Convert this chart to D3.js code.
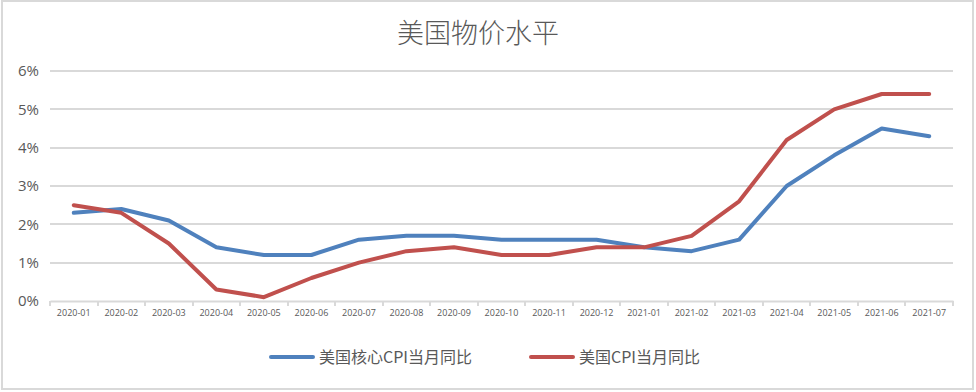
<!DOCTYPE html>
<html>
<head>
<meta charset="utf-8">
<script src="https://cdn.jsdelivr.net/npm/d3@7"></script>
<style>
  body { margin: 0; background: #fff; }
  svg { display: block; font-family: "Noto Sans CJK SC", "Noto Sans", sans-serif; }
</style>
</head>
<body>
<div id="chart"></div>
<script>
// months on the x axis
var months = ["2020-01", "2020-02", "2020-03", "2020-04", "2020-05", "2020-06", "2020-07",
  "2020-08", "2020-09", "2020-10", "2020-11", "2020-12", "2021-01", "2021-02",
  "2021-03", "2021-04", "2021-05", "2021-06", "2021-07"];

// series values, percent
var coreCpi = [2.3, 2.4, 2.1, 1.4, 1.2, 1.2, 1.6, 1.7, 1.7, 1.6, 1.6, 1.6, 1.4, 1.3, 1.6, 3.0, 3.8, 4.5, 4.3];
var cpi = [2.5, 2.3, 1.5, 0.3, 0.1, 0.6, 1.0, 1.3, 1.4, 1.2, 1.2, 1.4, 1.4, 1.7, 2.6, 4.2, 5.0, 5.4, 5.4];

var yTicks = [0, 1, 2, 3, 4, 5, 6];
var seriesNames = ["美国核心CPI当月同比", "美国CPI当月同比"];
var colors = ["#4f81bd", "#c0504d"];

var svgWidth = 976, svgHeight = 392;
var margin = { top: 71, right: 23, bottom: 91, left: 50 };
var chartWidth = svgWidth - margin.left - margin.right;
var chartHeight = svgHeight - margin.top - margin.bottom;

var svg = d3.select("#chart")
  .append("svg")
  .attr("width", svgWidth)
  .attr("height", svgHeight);

// outer border
svg.append("rect")
  .attr("x", 2).attr("y", 1)
  .attr("width", 971).attr("height", 388)
  .attr("fill", "#fff")
  .attr("stroke", "#d9d9d9")
  .attr("stroke-width", 2);

// title
svg.append("text")
  .attr("x", 478)
  .attr("y", 43)
  .attr("text-anchor", "middle")
  .attr("fill", "#595959")
  .style("font-size", "27px")
  .style("font-weight", "300")
  .text("美国物价水平");

var chartGroup = svg.append("g")
  .attr("transform", `translate(${margin.left}, ${margin.top})`);

var xScale = d3.scaleBand()
  .domain(months)
  .range([0, chartWidth]);

var yScale = d3.scaleLinear()
  .domain([0, 6])
  .range([chartHeight, 0]);

// gridlines
chartGroup.append("g")
  .selectAll("line")
  .data(yTicks.filter(d => d > 0))
  .enter()
  .append("line")
  .attr("x1", 0)
  .attr("x2", chartWidth)
  .attr("y1", d => Math.round(yScale(d)))
  .attr("y2", d => Math.round(yScale(d)))
  .attr("stroke", "#d9d9d9")
  .attr("stroke-width", 2);

// y labels
chartGroup.append("g")
  .selectAll("text")
  .data(yTicks)
  .enter()
  .append("text")
  .attr("x", -11)
  .attr("y", d => yScale(d))
  .attr("dy", "0.35em")
  .attr("text-anchor", "end")
  .attr("fill", "#595959")
  .style("font-family", "'Open Sans', sans-serif")
  .style("font-size", "15px")
  .text(d => d + "%");

// x axis
var xAxis = d3.axisBottom(xScale).tickSize(0).tickPadding(9);
var xAxisGroup = chartGroup.append("g")
  .attr("transform", `translate(0, ${Math.round(chartHeight)})`)
  .call(xAxis);
xAxisGroup.select(".domain").attr("stroke", "#d9d9d9").attr("stroke-width", 2);
xAxisGroup.selectAll("text")
  .attr("fill", "#595959")
  .style("font-family", "'Open Sans', sans-serif")
  .style("font-size", "9px");

// tick marks on band boundaries
xAxisGroup.selectAll(".bound")
  .data(months.concat(["end"]))
  .enter()
  .append("line")
  .attr("class", "bound")
  .attr("x1", (d, i) => Math.round(i * xScale.step()))
  .attr("x2", (d, i) => Math.round(i * xScale.step()))
  .attr("y1", 0)
  .attr("y2", 5)
  .attr("stroke", "#d9d9d9")
  .attr("stroke-width", 2);

// lines
var line = d3.line()
  .x((d, i) => xScale(months[i]) + xScale.bandwidth() / 2)
  .y(d => yScale(d));

[coreCpi, cpi].forEach(function(series, i) {
  chartGroup.append("path")
    .datum(series)
    .attr("d", line)
    .attr("fill", "none")
    .attr("stroke", colors[i])
    .attr("stroke-width", 4)
    .attr("stroke-linejoin", "round")
    .attr("stroke-linecap", "round");
});

// legend
var legendX = [271, 531];
var legend = svg.append("g");
seriesNames.forEach(function(name, i) {
  legend.append("line")
    .attr("x1", legendX[i]).attr("x2", legendX[i] + 42)
    .attr("y1", 357).attr("y2", 357)
    .attr("stroke", colors[i])
    .attr("stroke-width", 4)
    .attr("stroke-linecap", "round");
  legend.append("text")
    .attr("x", legendX[i] + 48)
    .attr("y", 357)
    .attr("dy", "0.35em")
    .attr("fill", "#595959")
    .style("font-size", "16px")
    .text(name);
});
</script>
</body>
</html>
